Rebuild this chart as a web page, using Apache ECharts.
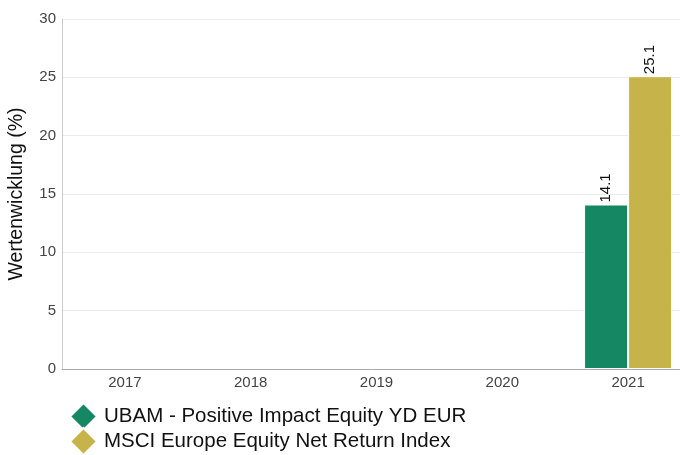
<!DOCTYPE html>
<html><head><meta charset="utf-8">
<script src="https://cdn.jsdelivr.net/npm/echarts@6/dist/echarts.min.js"></script>
<style>html,body{margin:0;padding:0;background:#fff}#c{width:680px;height:455px}</style>
</head><body><div id="c"></div>
<script>
const categories = ['2017','2018','2019','2020','2021'];
const fundName = 'UBAM - Positive Impact Equity YD EUR';
const indexName = 'MSCI Europe Equity Net Return Index';
const fundValues = [null, null, null, null, 14.1];
const indexValues = [null, null, null, null, 25.1];
const yTicks = {min: 0, max: 30, interval: 5};

const chart = echarts.init(document.getElementById('c'), null, {renderer: 'canvas'});
const font = 'Arial, "Liberation Sans", sans-serif';
const labelCfg = {
  show: true, position: 'top', rotate: 90, align: 'left', verticalAlign: 'middle',
  distance: 2, color: '#111', fontSize: 15, fontFamily: font,
  formatter: p => p.value == null ? '' : p.value.toFixed(1)
};
const legendBase = {
  orient: 'vertical', left: 64, itemWidth: 27, itemHeight: 27, icon: 'diamond',
  textStyle: {fontSize: 20.5, color: '#111', fontFamily: font, padding: [0,0,0,2]}
};
chart.setOption({
  animation: false,
  textStyle: {fontFamily: font},
  grid: {left: 62, right: -11, top: 19, bottom: 86, containLabel: false, outerBoundsMode: 'none'},
  legend: [
    Object.assign({}, legendBase, {top: 397, data: [fundName]}),
    Object.assign({}, legendBase, {top: 422, data: [indexName]})
  ],
  xAxis: {
    type: 'category', data: categories,
    axisLine: {lineStyle: {color: '#aaa'}},
    axisTick: {show: false},
    axisLabel: {color: '#444', fontSize: 15, margin: 6}
  },
  yAxis: {
    type: 'value', min: yTicks.min, max: yTicks.max, interval: yTicks.interval,
    name: 'Wertenwicklung (%)', nameLocation: 'middle', nameGap: 35,
    nameTextStyle: {color: '#111', fontSize: 19.5, fontFamily: font},
    axisLine: {show: true, lineStyle: {color: '#ccc'}},
    axisTick: {show: false},
    axisLabel: {color: '#444', fontSize: 15, margin: 6},
    splitLine: {lineStyle: {color: '#ebebeb'}}
  },
  series: [
    {name: fundName, type: 'bar', data: fundValues, barWidth: 44, barGap: '0%',
     itemStyle: {color: '#168763', borderColor: '#fff', borderWidth: 1}, label: labelCfg},
    {name: indexName, type: 'bar', data: indexValues, barWidth: 44, barGap: '0%',
     itemStyle: {color: '#c6b34a', borderColor: '#fff', borderWidth: 1}, label: labelCfg}
  ]
});
</script></body></html>
